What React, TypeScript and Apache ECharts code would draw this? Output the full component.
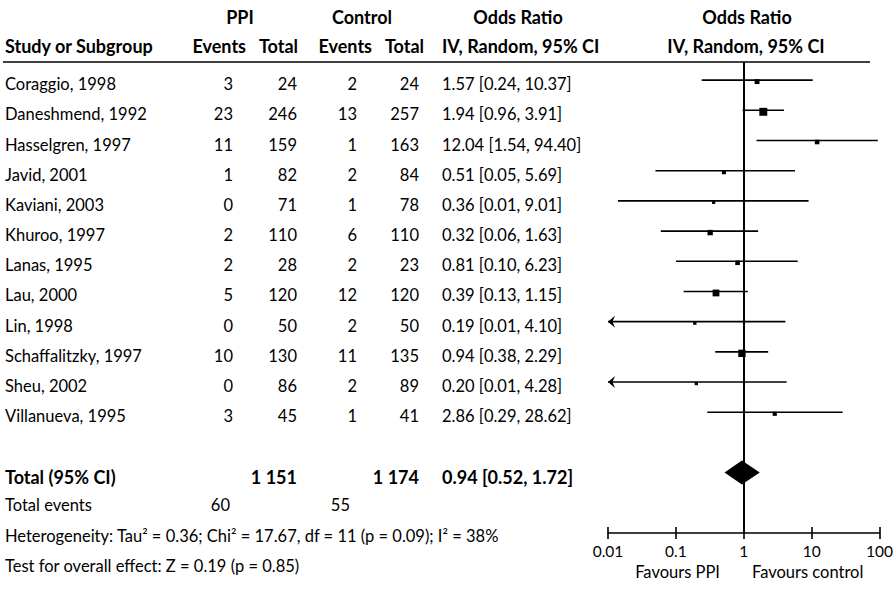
import React, { useEffect, useRef } from "react";
import * as echarts from "echarts";

const studies = [
  "Coraggio, 1998",
  "Daneshmend, 1992",
  "Hasselgren, 1997",
  "Javid, 2001",
  "Kaviani, 2003",
  "Khuroo, 1997",
  "Lanas, 1995",
  "Lau, 2000",
  "Lin, 1998",
  "Schaffalitzky, 1997",
  "Sheu, 2002",
  "Villanueva, 1995",
];
const ppiEvents = [3, 23, 11, 1, 0, 2, 2, 5, 0, 10, 0, 3];
const ppiTotal = [24, 246, 159, 82, 71, 110, 28, 120, 50, 130, 86, 45];
const ctrlEvents = [2, 13, 1, 2, 1, 6, 2, 12, 2, 11, 2, 1];
const ctrlTotal = [24, 257, 163, 84, 78, 110, 23, 120, 50, 135, 89, 41];
const oddsRatio = [1.57, 1.94, 12.04, 0.51, 0.36, 0.32, 0.81, 0.39, 0.19, 0.94, 0.2, 2.86];
const ciLow = [0.24, 0.96, 1.54, 0.05, 0.014, 0.06, 0.1, 0.13, 0.008, 0.38, 0.008, 0.29];
const ciHigh = [10.37, 3.91, 94.4, 5.69, 9.01, 1.63, 6.23, 1.15, 4.1, 2.29, 4.28, 28.62];
const weights = [7.4, 19.4, 6.5, 5.2, 3.1, 8.9, 6.5, 14.2, 3.4, 16.6, 3.4, 5.5];
const pooled = [0.94, 0.52, 1.72];
const totalPatients = [1151, 1174];
const totalEvents = [60, 55];
const heterogeneityText =
  "Heterogeneity: Tau\u00b2 = 0.36; Chi\u00b2 = 17.67, df = 11 (p = 0.09); I\u00b2 = 38%";
const overallText = "Test for overall effect: Z = 0.19 (p = 0.85)";
const axisMin = 0.01;
const axisMax = 100;

const FONT = 'Lato, "Noto Sans", sans-serif';
const FS = 16.5;
const FSB = 18;
const COL = { label: 5, ppiEv: 233, ppiTot: 297, ctlEv: 357, ctlTot: 419, or: 442 };
const TEXT_DY = 4;

const fmtThousands = (n: number) => String(n).replace(/\B(?=(\d{3})+(?!\d))/g, " ");
const fmtCI = (o: number, l: number, h: number) =>
  `${o.toFixed(2)} [${l.toFixed(2)}, ${h.toFixed(2)}]`;

function txt(text: string, x: number, y: number, align: string, bold = false) {
  return {
    type: "text",
    style: {
      text,
      x,
      y,
      align,
      verticalAlign: "middle",
      fontFamily: FONT,
      fontSize: bold ? FSB : FS,
      fontWeight: bold ? "bold" : "normal",
      fill: "#000",
    },
  };
}

export default function App() {
  const ref = useRef<HTMLDivElement>(null);
  useEffect(() => {
    if (!ref.current) return;
    const chart = echarts.init(ref.current, null, { renderer: "svg" });

    const studyRender = (params: any, api: any) => {
      const i = params.dataIndex;
      const y0 = api.coord([1, i])[1];
      const ty = y0 + TEXT_DY;
      const xl = api.coord([Math.max(ciLow[i], axisMin), i])[0];
      const xh = api.coord([Math.min(ciHigh[i], axisMax), i])[0];
      const xc = api.coord([oddsRatio[i], i])[0];
      const s = 1.8 * Math.sqrt(weights[i]);
      const children: any[] = [
        txt(studies[i], COL.label, ty, "left"),
        txt(String(ppiEvents[i]), COL.ppiEv, ty, "right"),
        txt(String(ppiTotal[i]), COL.ppiTot, ty, "right"),
        txt(String(ctrlEvents[i]), COL.ctlEv, ty, "right"),
        txt(String(ctrlTotal[i]), COL.ctlTot, ty, "right"),
        txt(fmtCI(oddsRatio[i], ciLow[i], ciHigh[i]), COL.or, ty, "left"),
        {
          type: "line",
          shape: { x1: xl, y1: y0, x2: xh, y2: y0 },
          style: { stroke: "#000", lineWidth: 1.6 },
        },
        {
          type: "rect",
          shape: { x: xc - s / 2, y: y0 - s / 2 + 1.5, width: s, height: s },
          style: { fill: "#000" },
        },
      ];
      if (ciLow[i] < axisMin) {
        children.push({
          type: "polygon",
          shape: { points: [[xl, y0], [xl + 7, y0 - 6], [xl + 4.5, y0], [xl + 7, y0 + 6]] },
          style: { fill: "#000" },
        });
      }
      if (ciHigh[i] > axisMax) {
        children.push({
          type: "polygon",
          shape: { points: [[xh, y0], [xh - 7, y0 - 6], [xh - 4.5, y0], [xh - 7, y0 + 6]] },
          style: { fill: "#000" },
        });
      }
      return { type: "group", children };
    };

    const totalRow = studies.length + 1;
    const pooledRender = (params: any, api: any) => {
      const y0 = api.coord([1, totalRow])[1];
      const ty = y0 + TEXT_DY;
      const xl = api.coord([pooled[1], totalRow])[0];
      const xh = api.coord([pooled[2], totalRow])[0];
      const xc = api.coord([pooled[0], totalRow])[0];
      return {
        type: "group",
        children: [
          txt("Total (95% CI)", COL.label, ty, "left", true),
          txt(fmtThousands(totalPatients[0]), COL.ppiTot, ty, "right", true),
          txt(fmtThousands(totalPatients[1]), COL.ctlTot, ty, "right", true),
          txt(fmtCI(pooled[0], pooled[1], pooled[2]), COL.or, ty, "left", true),
          {
            type: "polygon",
            shape: { points: [[xl, y0], [xc, y0 - 12], [xh, y0], [xc, y0 + 12]] },
            style: { fill: "#000" },
          },
        ],
      };
    };

    const headerTop = 17;
    const headerBottom = 46;
    const footY = [505, 536, 566];

    chart.setOption({
      animation: false,
      backgroundColor: "#fff",
      grid: { left: 608, right: 14, top: 62, bottom: 58 },
      xAxis: [
        {
          type: "log",
          logBase: 10,
          min: axisMin,
          max: axisMax,
          position: "bottom",
          axisLine: { show: true, onZero: false, lineStyle: { color: "#000", width: 1.6 } },
          axisTick: { show: true, length: 6, inside: false, lineStyle: { color: "#000", width: 1.6 } },
          axisLabel: {
            show: true,
            margin: 10,
            color: "#000",
            fontFamily: FONT,
            fontSize: 15.5,
            formatter: (v: number) => String(parseFloat(Number(v).toPrecision(6))),
          },
          splitLine: { show: false },
          minorTick: { show: false },
        },
        {
          type: "log",
          logBase: 10,
          min: axisMin,
          max: axisMax,
          position: "bottom",
          offset: 0,
          axisLine: { show: false, onZero: false },
          axisTick: { show: true, length: 6, inside: true, lineStyle: { color: "#000", width: 1.6 } },
          axisLabel: { show: false },
          splitLine: { show: false },
        },
      ],
      yAxis: { type: "value", inverse: true, min: -0.6, max: 15, show: false },
      series: [
        {
          type: "custom",
          clip: false,
          xAxisIndex: 0,
          data: studies.map((_, i) => [oddsRatio[i], i]),
          encode: { x: 0, y: 1 },
          renderItem: studyRender,
          silent: true,
          markLine: {
            silent: true,
            symbol: ["none", "none"],
            label: { show: false },
            lineStyle: { color: "#000", width: 2, type: "solid" },
            data: [{ xAxis: 1 }],
          },
        },
        {
          type: "custom",
          clip: false,
          xAxisIndex: 0,
          data: [[pooled[0], totalRow]],
          encode: { x: 0, y: 1 },
          renderItem: pooledRender,
          silent: true,
        },
      ],
      graphic: [
        { ...txt("PPI", 240, headerTop, "center", true) },
        { ...txt("Control", 362, headerTop, "center", true) },
        { ...txt("Odds Ratio", 518, headerTop, "center", true) },
        { ...txt("Odds Ratio", 747, headerTop, "center", true) },
        { ...txt("Study or Subgroup", COL.label, headerBottom, "left", true) },
        { ...txt("Events", 246, headerBottom, "right", true) },
        { ...txt("Total", 298, headerBottom, "right", true) },
        { ...txt("Events", 372, headerBottom, "right", true) },
        { ...txt("Total", 424, headerBottom, "right", true) },
        { ...txt("IV, Random, 95% CI", COL.or, headerBottom, "left", true) },
        { ...txt("IV, Random, 95% CI", 746, headerBottom, "center", true) },
        {
          type: "line",
          shape: { x1: 3, y1: 62, x2: 870, y2: 62 },
          style: { stroke: "#000", lineWidth: 1.6 },
        },
        { ...txt("Total events", COL.label, footY[0], "left") },
        { ...txt(String(totalEvents[0]), 230, footY[0], "right") },
        { ...txt(String(totalEvents[1]), 350, footY[0], "right") },
        { ...txt(heterogeneityText, COL.label, footY[1], "left") },
        { ...txt(overallText, COL.label, footY[2], "left") },
        { ...txt("Favours PPI", 720, 572, "right") },
        { ...txt("Favours control", 752, 572, "left") },
      ],
    });
    return () => chart.dispose();
  }, []);
  return (
    <div
      ref={ref}
      style={{ position: "absolute", left: 0, top: 0, width: 896, height: 591, background: "#fff" }}
    />
  );
}
